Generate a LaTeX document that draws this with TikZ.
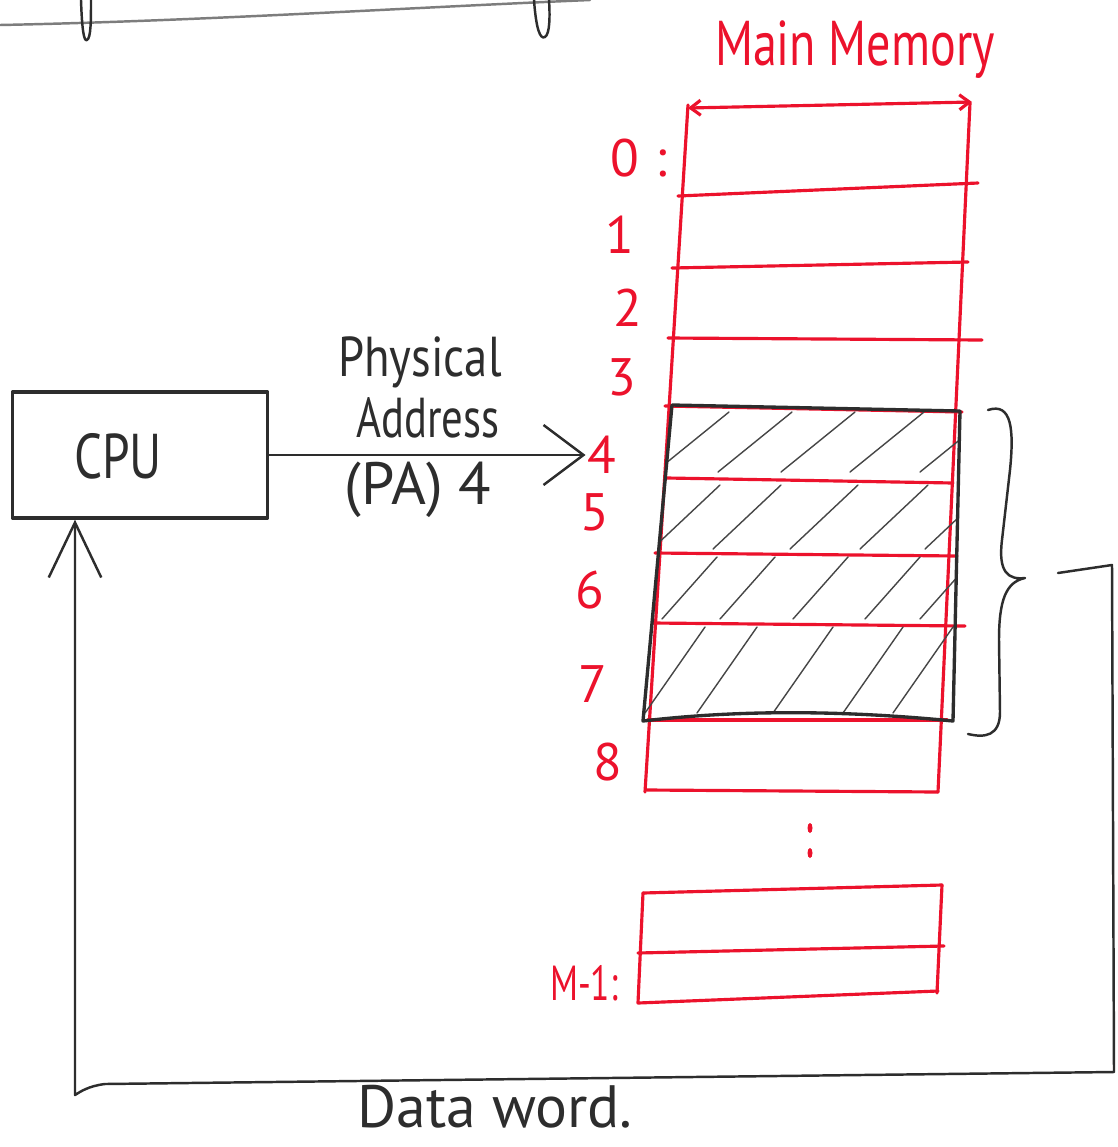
\documentclass[tikz,border=0pt]{standalone}
\usepackage{fontspec}
\setmainfont{PT Sans}
\usetikzlibrary{arrows.meta}
\definecolor{pen}{RGB}{236,18,44}
\definecolor{ink}{RGB}{45,45,45}
\definecolor{pencil}{RGB}{125,125,125}
\definecolor{hatchc}{RGB}{70,70,70}
\newcommand\narrowed[2]{\scalebox{#1}[1]{#2}}
\begin{document}
\begin{tikzpicture}[x=0.02cm,y=-0.02cm,
  redline/.style={draw=pen, line width=1.8pt, line cap=round, line join=round},
  inkline/.style={draw=ink, line width=1.4pt, line cap=round, line join=round},
  boxline/.style={draw=ink, line width=1.9pt, line cap=round, line join=round},
  pencilline/.style={draw=pencil, line width=1.4pt, line cap=round},
  hatchline/.style={draw=hatchc, line width=0.8pt, line cap=round},
  redtext/.style={text=pen, inner sep=1pt},
  inktext/.style={text=ink, inner sep=1pt},
  digit/.style={redtext, font=\fontsize{30}{32}\selectfont},
  bigtext/.style={inktext, font=\fontsize{34}{38}\selectfont},
  pabarb/.style={-{Straight Barb[length=8mm,width=12mm]}},
  upbarb/.style={-{Straight Barb[length=11mm,width=10.5mm]}},
  tinybarbs/.style={{Straight Barb[length=2mm,width=3mm]}-{Straight Barb[length=2mm,width=3mm]}}
]
\useasboundingbox (0,0) rectangle (1117,1147);
\fill[white] (0,0) rectangle (1117,1147);

% remnant of a previous sketch at the top
\draw[pencilline] (0,25) .. controls (200,21) and (400,8) .. (590,0);
\draw[inkline] (81,0) .. controls (82,30) and (84,42) .. (87,40) .. controls (91,38) and (91,20) .. (91,0);
\draw[inkline] (534,0) .. controls (536,28) and (540,40) .. (545,37) .. controls (550,34) and (550,15) .. (549,0);

% ---------- main memory (red) ----------
\node[redtext, anchor=base, font=\fontsize{36}{40}\selectfont] (mmtitle) at (855,65) {\narrowed{0.76}{Main Memory}};
\draw[redline, tinybarbs] (688,108) -- (972,102);
\draw[redline] (688,105) -- (645,792);
\draw[redline] (970,103) -- (938,792);
\foreach \a/\b/\c/\d in {678/196/978/183, 672/268/968/262, 668/338/982/340,
  665/406/962/412, 667/478/953/483, 655/553/957/556, 653/623/965/626,
  648/720/947/720, 647/790/938/792}
  \draw[redline] (\a,\b) -- (\c,\d);

% hatching of words 4..7
\begin{scope}
  \clip (672,405) -- (960,411) -- (953,721) -- (643,721) -- cycle;
  \foreach \x in {655,718,781,850,920}
    \draw[hatchline] (\x,472) -- ++(74,-60);
  \foreach \x in {652,713,790,860,925}
    \draw[hatchline] (\x,549) -- ++(68,-64);
  \foreach \x in {662,720,793,865,920}
    \draw[hatchline] (\x,619) -- ++(55,-62);
  \foreach \x in {645,697,773,843,893}
    \draw[hatchline] (\x,713) -- ++(60,-86);
\end{scope}
\draw[boxline] (672,405) -- (960,411) -- (953,721)
  .. controls (820,708) and (720,712) .. (643,721) -- cycle;

% address labels
\node[digit] (l0) at (639,158) {0\hspace{0.3em}:};
\node[digit] (l1) at (620,235) {1};
\node[digit] (l2) at (628,308) {2};
\node[digit] (l3) at (622,377) {3};
\node[digit] (l4) at (602,455) {4};
\node[digit] (l5) at (595,512) {5};
\node[digit] (l6) at (590,590) {6};
\node[digit] (l7) at (593,684) {7};
\node[digit] (l8) at (608,762) {8};

% dots
\fill[pen] (810,828) ellipse [x radius=0.05cm, y radius=0.1cm];
\fill[pen] (810,853) ellipse [x radius=0.05cm, y radius=0.1cm];

% last words
\draw[redline] (643,893) -- (942,885);
\draw[redline] (638,953) -- (944,946);
\draw[redline] (643,893) -- (638,1003) -- (938,991);
\draw[redline] (942,885) -- (937,993);
\node[redtext, anchor=base, font=\fontsize{28}{30}\selectfont] (lm) at (584,1000) {\narrowed{0.72}{M-1:}};

% ---------- CPU ----------
\node[boxline, draw, minimum width=5.1cm, minimum height=2.52cm, inner sep=0pt] (cpu) at (140,455) {};
\node[inktext, anchor=base, font=\fontsize{36}{40}\selectfont] (cputext) at (118,478) {\narrowed{0.78}{CPU}};

% physical address arrow
\draw[inkline, pabarb] (cpu.east) -- (l4.west);
\node[inktext, anchor=base, font=\fontsize{32}{36}\selectfont] (pa1) at (420,376) {\narrowed{0.83}{Physical}};
\node[inktext, anchor=base, font=\fontsize{32}{36}\selectfont] (pa2) at (428,437) {\narrowed{0.76}{Address}};
\node[bigtext] (pa3) at (418,490) {(PA) 4};

% brace over words 4..7
\draw[inkline] (988,410) .. controls (1012,402) and (1014,430) .. (1010,470)
  -- (1002,540) .. controls (998,572) and (1008,580) .. (1025,578)
  .. controls (1006,582) and (999,600) .. (999,640)
  -- (1000,712) .. controls (1000,736) and (985,738) .. (968,734);

% data word path back to the CPU
\coordinate (bstart) at (1058,573);
\coordinate (dwc) at (75,1095);
\draw[inkline, upbarb] (bstart) -- (1112,565) -- (1114,1072) -- (105,1084)
  .. controls (88,1086) and (80,1092) .. (dwc) -- (cpu.south -| dwc);
\node[inktext, anchor=base, font=\fontsize{34}{38}\selectfont] (dw) at (495,1127) {Data word.};
\end{tikzpicture}
\end{document}
